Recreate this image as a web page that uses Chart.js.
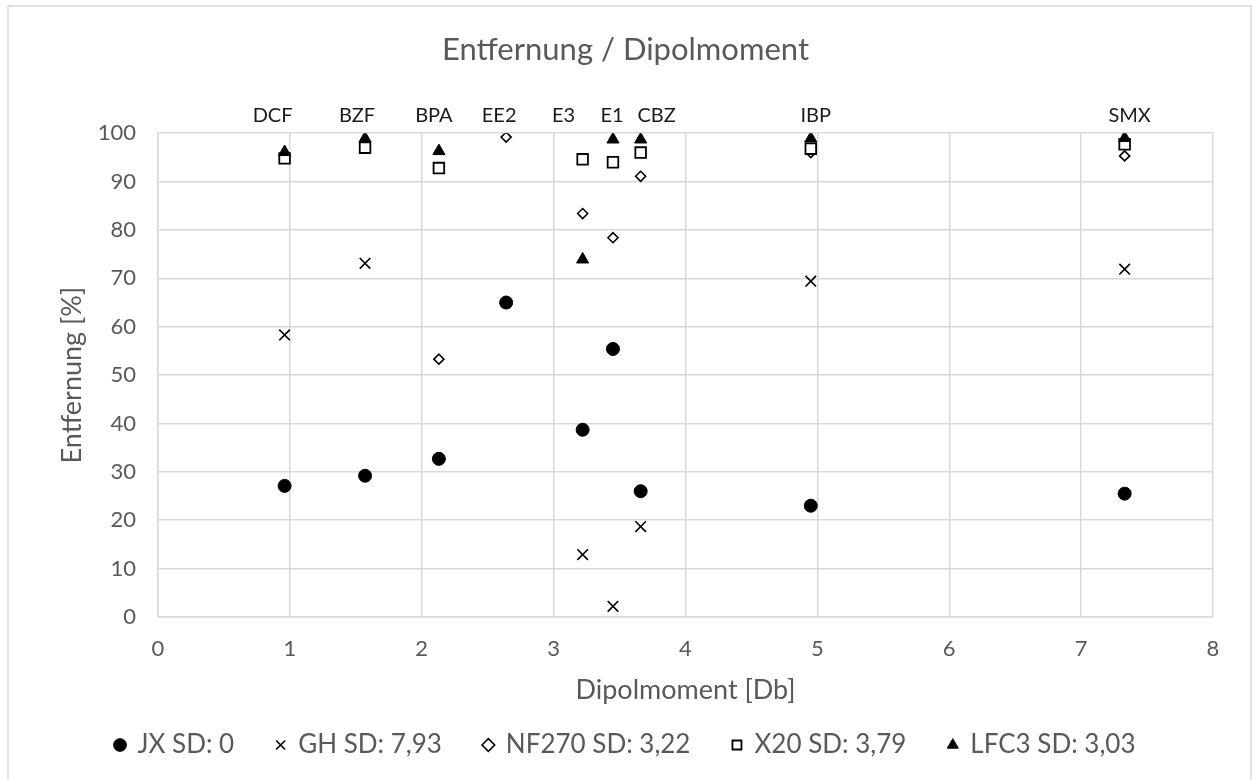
<!DOCTYPE html>
<html>
<head>
<meta charset="utf-8">
<script src="https://cdn.jsdelivr.net/npm/chart.js@4/dist/chart.umd.min.js"></script>
<style>
  html, body { margin: 0; padding: 0; background: #fff; }
  #wrap { width: 1253px; height: 780px; position: relative; }
</style>
</head>
<body>
<div id="wrap"><canvas id="c" width="1253" height="780"></canvas></div>
<script>
// Compounds and their dipole moments [Db]
const compounds = ['DCF', 'BZF', 'BPA', 'EE2', 'E3', 'E1', 'CBZ', 'IBP', 'SMX'];
const dipole    = [0.96, 1.57, 2.13, 2.64, 3.22, 3.45, 3.66, 4.95, 7.33];

// Removal [%] per membrane
const jx    = [27.1, 29.2, 32.7, 65.0, 38.7, 55.4, 26.0, 23.0, 25.5];
const gh    = [58.3, 73.1, null, null, 12.9, 2.2, 18.7, 69.4, 71.9];
const nf270 = [null, null, 53.3, 99.2, 83.4, 78.4, 91.1, 96.0, 95.3];
const x20   = [94.8, 97.0, 92.8, null, 94.6, 94.0, 96.0, 96.8, 97.7];
const lfc3  = [96.1, 98.9, 96.3, null, 73.9, 98.7, 98.7, 98.9, 99.0];

const seriesNames = ['JX SD: 0', 'GH SD: 7,93', 'NF270 SD: 3,22', 'X20 SD: 3,79', 'LFC3 SD: 3,03'];

const xTicks = [0, 1, 2, 3, 4, 5, 6, 7, 8];
const yTicks = [0, 10, 20, 30, 40, 50, 60, 70, 80, 90, 100];

// horizontal nudge of each compound name (px)
const nameShift = [-12, -8, -5, -7, -19, -1, 16, 5, 5];

const FONT = 'Lato, "Open Sans", sans-serif';
const GREY = '#595959';
const GRID = '#d9d9d9';

function pts(vals) {
  return vals.map((v, i) => v === null ? null : { x: dipole[i], y: v }).filter(p => p);
}

const datasets = [
  { label: seriesNames[0], data: pts(jx), pointStyle: 'circle', pointRadius: 6.5,
    backgroundColor: '#000', borderColor: '#000', borderWidth: 1, order: 5 },
  { label: seriesNames[1], data: pts(gh), pointStyle: 'crossRot', pointRadius: 7.5,
    backgroundColor: '#000', borderColor: '#000', borderWidth: 1.6, order: 4 },
  { label: seriesNames[2], data: pts(nf270), pointStyle: 'rectRot', pointRadius: 5,
    backgroundColor: '#fff', borderColor: '#000', borderWidth: 1.6, order: 3 },
  { label: seriesNames[3], data: pts(x20), pointStyle: 'rect', pointRadius: 7.5,
    backgroundColor: '#fff', borderColor: '#000', borderWidth: 1.8, order: 2 },
  { label: seriesNames[4], data: pts(lfc3), pointStyle: 'triangle', pointRadius: 7,
    backgroundColor: '#000', borderColor: '#000', borderWidth: 1, order: 1 }
];
datasets.forEach(d => { d.pointHoverRadius = d.pointRadius; d.showLine = false; });

// compound names written above the plot area
const compoundNames = {
  id: 'compoundNames',
  afterDatasetsDraw(chart) {
    const { ctx, scales: { x, y } } = chart;
    ctx.save();
    ctx.font = '20px ' + FONT;
    ctx.fillStyle = '#1a1a1a';
    ctx.textAlign = 'center';
    ctx.textBaseline = 'middle';
    const yp = y.getPixelForValue(100) - 18;
    compounds.forEach((name, i) => {
      ctx.fillText(name, x.getPixelForValue(dipole[i]) + nameShift[i], yp);
    });
    ctx.restore();
  }
};

// thin frame around the whole chart
const frame = {
  id: 'frame',
  beforeDraw(chart) {
    const { ctx } = chart;
    ctx.save();
    ctx.fillStyle = '#fff';
    ctx.fillRect(0, 0, chart.width, chart.height);
    ctx.strokeStyle = GRID;
    ctx.lineWidth = 1.5;
    ctx.strokeRect(8, 6, 1243, 800);
    ctx.restore();
  }
};

new Chart(document.getElementById('c'), {
  type: 'scatter',
  data: { datasets },
  plugins: [frame, compoundNames],
  options: {
    responsive: false,
    animation: false,
    devicePixelRatio: 1,
    layout: { padding: { left: 12, right: 14, top: 0, bottom: 12 } },
    plugins: {
      tooltip: { enabled: false },
      title: {
        display: true,
        text: 'Entfernung / Dipolmoment',
        color: GREY,
        font: { family: FONT, size: 31, weight: 'normal' },
        padding: { top: 31, bottom: 65 }
      },
      legend: {
        position: 'bottom',
        labels: {
          usePointStyle: true,
          boxWidth: 9,
          boxHeight: 9,
          color: GREY,
          padding: 42,
          font: { family: FONT, size: 26 },
          sort: (a, b) => a.datasetIndex - b.datasetIndex
        }
      }
    },
    scales: {
      x: {
        type: 'linear',
        min: 0, max: 8,
        afterBuildTicks: s => { s.ticks = xTicks.map(v => ({ value: v })); },
        afterFit: s => { s.height = 73; },
        grid: { color: GRID, lineWidth: 1.5, drawTicks: false },
        border: { color: GRID, width: 1.5 },
        ticks: { color: GREY, font: { family: FONT, size: 22 }, padding: 19 },
        title: { display: true, text: 'Dipolmoment [Db]', color: GREY,
                 font: { family: FONT, size: 27 }, padding: { top: 0, bottom: -16 } }
      },
      y: {
        type: 'linear',
        min: 0, max: 100,
        afterBuildTicks: s => { s.ticks = yTicks.map(v => ({ value: v })); },
        afterFit: s => { s.width = 146; },
        grid: { color: GRID, lineWidth: 1.5, drawTicks: false },
        border: { color: GRID, width: 1.5 },
        ticks: { color: GREY, font: { family: FONT, size: 22 }, padding: 22 },
        title: { display: true, text: 'Entfernung [%]', color: GREY,
                 font: { family: FONT, size: 27 }, padding: { top: 44, bottom: 0 } }
      },
      // empty right-hand margin so title and legend centre on the page
      yRight: {
        type: 'linear',
        position: 'right',
        display: true,
        min: 0, max: 100,
        afterFit: s => { s.width = 26; },
        grid: { display: false, drawOnChartArea: false },
        border: { display: false },
        ticks: { display: false }
      }
    }
  }
});
</script>
</body>
</html>
